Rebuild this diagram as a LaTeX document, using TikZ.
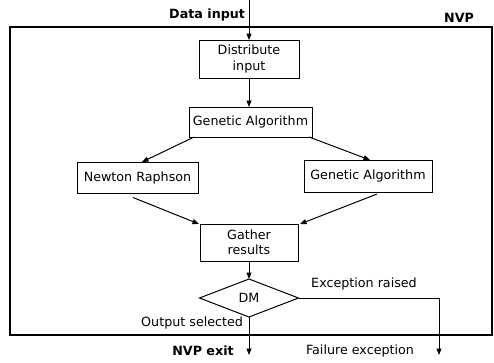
\documentclass[tikz,border=0pt]{standalone}
\usepackage{fontspec}
\setmainfont{DejaVu Sans}
\usetikzlibrary{arrows.meta,shapes.geometric,calc}
\begin{document}
\begin{tikzpicture}[x=1pt,y=-1pt,
  every node/.style={inner sep=0pt, outer sep=0pt},
  txt/.style={font=\fontsize{12.7}{16}\selectfont},
  btxt/.style={font=\fontsize{12.7}{16}\selectfont\bfseries},
  proc/.style={draw, line width=1pt, align=center, txt},
  flow/.style={draw, line width=1pt, -{Triangle[length=6.5pt,width=5pt]}}]
\useasboundingbox (0,0) rectangle (494,362);

% enclosing NVP frame
\node[draw, line width=1.9pt, minimum width=482pt, minimum height=308pt] (nvp) at (251,181) {};
\node[btxt] (nvptag) at (459,18) {NVP};

% processing steps
\node[proc, minimum width=100pt, minimum height=38pt] (dist) at (249,59) {Distribute\\[-0.5pt]input};
\node[proc, minimum width=123pt, minimum height=30pt] (ga) at (250.5,122) {Genetic Algorithm};
\node[proc, minimum width=121pt, minimum height=31pt] (nr) at (137.5,177.5) {Newton Raphson};
\node[proc, minimum width=128pt, minimum height=32pt] (ga2) at (368,176) {Genetic Algorithm};
\node[proc, minimum width=98pt, minimum height=37pt] (gather) at (249,242.5) {Gather\\[-0.5pt]results};
\node[draw, line width=1pt, diamond, aspect=2.6, minimum width=99pt, minimum height=38pt, txt] (dm) at (249,298) {DM};

% entry
\coordinate (in) at (249,0);
\node[btxt, anchor=east] (datain) at (245,15) {Data input};
\draw[flow] (in) -- (dist.north);
\draw[flow] (dist.south) -- (ga.north -| dist.south);

% fan out and gather
\draw[flow] ($(ga.south west)+(5,0)$) -- ($(nr.north)+(4.5,0)$);
\draw[flow] ($(ga.south east)+(-3,0)$) -- ($(ga2.north)+(2,0)$);
\draw[flow] ($(nr.south)+(-4.5,4.5)$) -- ($(gather.north west)+(-1,0)$);
\draw[flow] ($(ga2.south)+(9,2)$) -- ($(gather.north east)+(2,0)$);
\draw[flow] (gather.south) -- (dm.north);

% exits
\coordinate (okend) at (249,355);
\coordinate (failcorner) at (439,298);
\coordinate (failend) at (439,355);
\draw[flow] (dm.south) -- (okend);
\draw[flow] (dm.east) -- (failcorner) -- (failend);
\node[txt, anchor=east] (outsel) at (243,323) {Output selected};
\node[txt] (excraised) at (364,284) {Exception raised};
\node[btxt] (nvpexit) at (203,351) {NVP exit};
\node[txt] (failexc) at (360,351) {Failure exception};
\end{tikzpicture}
\end{document}
